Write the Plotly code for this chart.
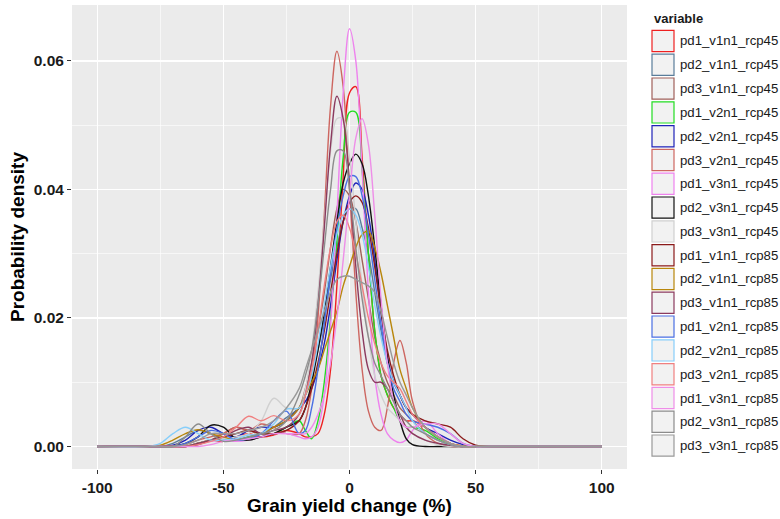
import plotly.graph_objects as go

# shared x grid (grain yield change, %)
yield_change = [-100, -80, -75, -70, -65, -60, -55, -50, -45, -40, -35, -30, -25, -20,
                -17.5, -15, -12.5, -10, -7.5, -5, -2.5, 0, 2.5, 5, 7.5, 10, 12.5, 15,
                17.5, 20, 22.5, 25, 30, 35, 40, 45, 50, 55, 100]

series_names = ["pd1_v1n1_rcp45", "pd2_v1n1_rcp45", "pd3_v1n1_rcp45",
                "pd1_v2n1_rcp45", "pd2_v2n1_rcp45", "pd3_v2n1_rcp45",
                "pd1_v3n1_rcp45", "pd2_v3n1_rcp45", "pd3_v3n1_rcp45",
                "pd1_v1n1_rcp85", "pd2_v1n1_rcp85", "pd3_v1n1_rcp85",
                "pd1_v2n1_rcp85", "pd2_v2n1_rcp85", "pd3_v2n1_rcp85",
                "pd1_v3n1_rcp85", "pd2_v3n1_rcp85", "pd3_v3n1_rcp85"]

series_colors = ["#EE2020", "#5A7D9A", "#A0605A",
                 "#22DD22", "#1E22B8", "#CD6660",
                 "#EE82EE", "#111111", "#D0D0D0",
                 "#8B1A1A", "#B8860B", "#8B3A5E",
                 "#4A6FE3", "#87CEFA", "#F08080",
                 "#EE8EE8", "#8C8C8C", "#999999"]

pd1_v1n1_rcp45 = [0, 0, 0, 0, 0, 0.0005, 0.001, 0.0008, 0.0015, 0.002, 0.0015, 0.0018, 0.0025, 0.002,
                  0.0015, 0.0015, 0.002, 0.005, 0.012, 0.025, 0.042, 0.055, 0.056, 0.045, 0.030, 0.018,
                  0.011, 0.008, 0.006, 0.005, 0.004, 0.004, 0.003, 0.0015, 0.0005, 0.0001, 0, 0, 0]
pd2_v1n1_rcp45 = [0, 0, 0, 0.0005, 0.0015, 0.0025, 0.002, 0.0012, 0.001, 0.0015, 0.002, 0.003, 0.0045, 0.006,
                  0.008, 0.011, 0.015, 0.020, 0.026, 0.031, 0.035, 0.037, 0.037, 0.034, 0.030, 0.024,
                  0.018, 0.013, 0.010, 0.008, 0.006, 0.005, 0.003, 0.0015, 0.0005, 0, 0, 0, 0]
pd3_v1n1_rcp45 = [0, 0, 0, 0, 0, 0.0005, 0.001, 0.002, 0.003, 0.0025, 0.002, 0.003, 0.004, 0.006,
                  0.009, 0.013, 0.018, 0.024, 0.031, 0.037, 0.040, 0.039, 0.035, 0.029, 0.023, 0.017,
                  0.013, 0.010, 0.008, 0.006, 0.005, 0.004, 0.002, 0.001, 0.0003, 0, 0, 0, 0]
pd1_v2n1_rcp45 = [0, 0, 0, 0, 0, 0.0005, 0.001, 0.0012, 0.001, 0.0015, 0.002, 0.002, 0.003, 0.004,
                  0.0025, 0.0012, 0.004, 0.010, 0.020, 0.032, 0.045, 0.052, 0.052, 0.043, 0.030, 0.018,
                  0.011, 0.008, 0.006, 0.004, 0.003, 0.003, 0.0025, 0.0012, 0.0003, 0, 0, 0, 0]
pd2_v2n1_rcp45 = [0, 0, 0, 0.0002, 0.001, 0.0025, 0.003, 0.002, 0.0015, 0.0025, 0.003, 0.003, 0.004, 0.006,
                  0.007, 0.009, 0.012, 0.016, 0.022, 0.029, 0.035, 0.039, 0.041, 0.040, 0.036, 0.029,
                  0.021, 0.014, 0.010, 0.008, 0.006, 0.005, 0.003, 0.002, 0.001, 0.0003, 0, 0, 0]
pd3_v2n1_rcp45 = [0, 0, 0, 0, 0.0003, 0.001, 0.0015, 0.002, 0.003, 0.0025, 0.0035, 0.003, 0.002, 0.002,
                  0.004, 0.009, 0.020, 0.036, 0.053, 0.0615, 0.056, 0.040, 0.024, 0.012, 0.0055, 0.003,
                  0.0025, 0.006, 0.013, 0.0165, 0.013, 0.007, 0.002, 0.0005, 0, 0, 0, 0, 0]
pd1_v3n1_rcp45 = [0, 0, 0, 0, 0, 0.0003, 0.0008, 0.001, 0.0008, 0.001, 0.0015, 0.002, 0.002, 0.0015,
                  0.0012, 0.0015, 0.003, 0.008, 0.019, 0.036, 0.055, 0.065, 0.060, 0.043, 0.024, 0.011,
                  0.005, 0.002, 0.001, 0.0006, 0.001, 0.0025, 0.004, 0.002, 0.0005, 0, 0, 0, 0]
pd2_v3n1_rcp45 = [0, 0, 0, 0.0001, 0.0005, 0.0015, 0.0033, 0.003, 0.0012, 0.001, 0.0015, 0.002, 0.003, 0.004,
                  0.006, 0.010, 0.015, 0.021, 0.028, 0.035, 0.041, 0.044, 0.0455, 0.044, 0.039, 0.031,
                  0.022, 0.014, 0.008, 0.004, 0.0012, 0.0003, 0, 0, 0, 0, 0, 0, 0]
pd3_v3n1_rcp45 = [0, 0, 0, 0, 0, 0.0005, 0.001, 0.0012, 0.0015, 0.002, 0.004, 0.0075, 0.006, 0.006,
                  0.009, 0.015, 0.024, 0.035, 0.046, 0.051, 0.051, 0.045, 0.035, 0.025, 0.017, 0.011,
                  0.008, 0.006, 0.005, 0.004, 0.003, 0.002, 0.001, 0.0003, 0, 0, 0, 0, 0]
pd1_v1n1_rcp85 = [0, 0, 0, 0, 0, 0.0003, 0.001, 0.0015, 0.002, 0.0025, 0.002, 0.002, 0.0025, 0.004,
                  0.006, 0.009, 0.013, 0.018, 0.024, 0.030, 0.035, 0.038, 0.039, 0.038, 0.034, 0.028,
                  0.021, 0.015, 0.011, 0.008, 0.006, 0.005, 0.004, 0.0035, 0.003, 0.0012, 0.0002, 0, 0]
pd2_v1n1_rcp85 = [0, 0, 0.0002, 0.001, 0.002, 0.0026, 0.002, 0.0015, 0.001, 0.0012, 0.002, 0.003, 0.004, 0.006,
                  0.008, 0.010, 0.012, 0.015, 0.018, 0.021, 0.025, 0.028, 0.031, 0.033, 0.0335, 0.031,
                  0.027, 0.022, 0.017, 0.012, 0.009, 0.006, 0.003, 0.0015, 0.0005, 0.0001, 0, 0, 0]
pd3_v1n1_rcp85 = [0, 0, 0, 0, 0, 0.0005, 0.001, 0.0015, 0.0025, 0.003, 0.002, 0.0025, 0.003, 0.005,
                  0.008, 0.013, 0.022, 0.034, 0.047, 0.0545, 0.051, 0.041, 0.028, 0.018, 0.012, 0.010,
                  0.010, 0.009, 0.007, 0.005, 0.003, 0.002, 0.001, 0.0005, 0.0002, 0, 0, 0, 0]
pd1_v2n1_rcp85 = [0, 0, 0, 0, 0.0005, 0.0015, 0.0025, 0.002, 0.001, 0.0012, 0.002, 0.004, 0.0055, 0.002,
                  0.0025, 0.006, 0.012, 0.019, 0.027, 0.034, 0.039, 0.042, 0.042, 0.039, 0.033, 0.026,
                  0.019, 0.013, 0.009, 0.007, 0.005, 0.004, 0.0035, 0.003, 0.002, 0.0005, 0, 0, 0]
pd2_v2n1_rcp85 = [0, 0, 0.0005, 0.002, 0.003, 0.002, 0.001, 0.001, 0.0012, 0.0018, 0.002, 0.0035, 0.0058, 0.006,
                  0.008, 0.011, 0.016, 0.022, 0.028, 0.033, 0.036, 0.037, 0.036, 0.033, 0.028, 0.022,
                  0.017, 0.013, 0.010, 0.008, 0.006, 0.004, 0.002, 0.001, 0.0003, 0, 0, 0, 0]
pd3_v2n1_rcp85 = [0, 0, 0, 0, 0, 0.0003, 0.0008, 0.0015, 0.003, 0.0047, 0.004, 0.0048, 0.004, 0.005,
                  0.008, 0.012, 0.018, 0.025, 0.031, 0.035, 0.036, 0.034, 0.030, 0.025, 0.020, 0.016,
                  0.013, 0.011, 0.010, 0.009, 0.007, 0.005, 0.003, 0.0015, 0.0005, 0, 0, 0, 0]
pd1_v3n1_rcp85 = [0, 0, 0, 0, 0, 0, 0.0003, 0.0008, 0.001, 0.0012, 0.0015, 0.002, 0.002, 0.002,
                  0.002, 0.003, 0.005, 0.008, 0.013, 0.020, 0.029, 0.039, 0.048, 0.051, 0.047, 0.036,
                  0.023, 0.013, 0.007, 0.004, 0.003, 0.003, 0.0035, 0.0035, 0.002, 0.0005, 0, 0, 0]
pd2_v3n1_rcp85 = [0, 0, 0, 0, 0.0015, 0.0035, 0.002, 0.0008, 0.001, 0.0015, 0.002, 0.0025, 0.004, 0.008,
                  0.011, 0.015, 0.022, 0.031, 0.040, 0.046, 0.046, 0.040, 0.031, 0.023, 0.017, 0.013,
                  0.011, 0.009, 0.007, 0.005, 0.004, 0.003, 0.002, 0.001, 0.0003, 0, 0, 0, 0]
pd3_v3n1_rcp85 = [0, 0, 0, 0, 0.0003, 0.001, 0.002, 0.002, 0.002, 0.0025, 0.003, 0.004, 0.006, 0.009,
                  0.012, 0.015, 0.018, 0.021, 0.024, 0.026, 0.0265, 0.0265, 0.026, 0.0255, 0.025, 0.024,
                  0.021, 0.017, 0.013, 0.010, 0.008, 0.006, 0.003, 0.0015, 0.0005, 0, 0, 0, 0]

densities = [pd1_v1n1_rcp45, pd2_v1n1_rcp45, pd3_v1n1_rcp45,
             pd1_v2n1_rcp45, pd2_v2n1_rcp45, pd3_v2n1_rcp45,
             pd1_v3n1_rcp45, pd2_v3n1_rcp45, pd3_v3n1_rcp45,
             pd1_v1n1_rcp85, pd2_v1n1_rcp85, pd3_v1n1_rcp85,
             pd1_v2n1_rcp85, pd2_v2n1_rcp85, pd3_v2n1_rcp85,
             pd1_v3n1_rcp85, pd2_v3n1_rcp85, pd3_v3n1_rcp85]

x_ticks = [-100, -50, 0, 50, 100]
y_ticks = [0.00, 0.02, 0.04, 0.06]

for d in densities:
    assert len(d) == len(yield_change)

FONT = "Liberation Sans, Arial, Helvetica, sans-serif"
W, H = 780, 519
ML, MR, MT, MB = 72, 153, 5, 50
PW, PH = W - ML - MR, H - MT - MB


def px_x(px):
    return (px - ML) / PW


def px_y(py):
    return (H - MB - py) / PH


fig = go.Figure()
for name, col, dens in zip(series_names, series_colors, densities):
    fig.add_trace(go.Scatter(
        x=yield_change, y=dens, mode="lines", name=name,
        line=dict(color=col, width=1.4, shape="spline", smoothing=1.0),
        showlegend=False, hoverinfo="skip"))

shapes = []
annotations = []
# manual ggplot-like legend
annotations.append(dict(text="<b>variable</b>", x=px_x(652), y=px_y(19), xref="paper", yref="paper",
                        xanchor="left", yanchor="middle", showarrow=False,
                        font=dict(family=FONT, size=13, color="#1a1a1a")))
for i, (name, col) in enumerate(zip(series_names, series_colors)):
    cy = 41 + 23.8 * i
    shapes.append(dict(type="rect", xref="paper", yref="paper",
                       x0=px_x(652), x1=px_x(674), y0=px_y(cy + 10.6), y1=px_y(cy - 10.6),
                       fillcolor="#F2F2F2", line=dict(color=col, width=1.2)))
    annotations.append(dict(text=name, x=px_x(678), y=px_y(cy), xref="paper", yref="paper",
                            xanchor="left", yanchor="middle", showarrow=False,
                            font=dict(family=FONT, size=13.2, color="#1a1a1a")))

# axis titles
annotations.append(dict(text="<b>Grain yield change (%)</b>", x=0.5, y=px_y(506), xref="paper", yref="paper",
                        xanchor="center", yanchor="middle", showarrow=False,
                        font=dict(family=FONT, size=19, color="#000000")))
annotations.append(dict(text="<b>Probability density</b>", x=px_x(17), y=0.5, xref="paper", yref="paper",
                        xanchor="center", yanchor="middle", showarrow=False, textangle=-90,
                        font=dict(family=FONT, size=19, color="#000000")))

fig.update_layout(
    width=W, height=H, autosize=False,
    margin=dict(l=ML, r=MR, t=MT, b=MB, pad=0),
    paper_bgcolor="white", plot_bgcolor="#EBEBEB",
    font=dict(family=FONT),
    shapes=shapes, annotations=annotations,
    showlegend=False,
    xaxis=dict(range=[-110, 110], tickmode="array", tickvals=x_ticks,
               ticktext=[str(v) for v in x_ticks],
               showgrid=True, gridcolor="white", gridwidth=1.3, zeroline=False, showline=False,
               ticks="outside", ticklen=4, tickwidth=1, tickcolor="#333333",
               tickfont=dict(family=FONT, size=15.5, color="#1a1a1a", weight="bold"),
               minor=dict(tickvals=[-75, -25, 25, 75], showgrid=True, gridcolor="white",
                          gridwidth=0.6, ticks="")),
    yaxis=dict(range=[-0.0035, 0.0687], tickmode="array", tickvals=y_ticks,
               ticktext=["%.2f" % v for v in y_ticks],
               showgrid=True, gridcolor="white", gridwidth=1.3, zeroline=False, showline=False,
               ticks="outside", ticklen=4, tickwidth=1, tickcolor="#333333",
               tickfont=dict(family=FONT, size=15.5, color="#1a1a1a", weight="bold"),
               minor=dict(tickvals=[0.01, 0.03, 0.05], showgrid=True, gridcolor="white",
                          gridwidth=0.6, ticks="")),
)

fig.write_html("out.html", config={"displayModeBar": False, "staticPlot": True},
               post_script="document.body.style.margin='0px';document.body.style.overflow='hidden';")
